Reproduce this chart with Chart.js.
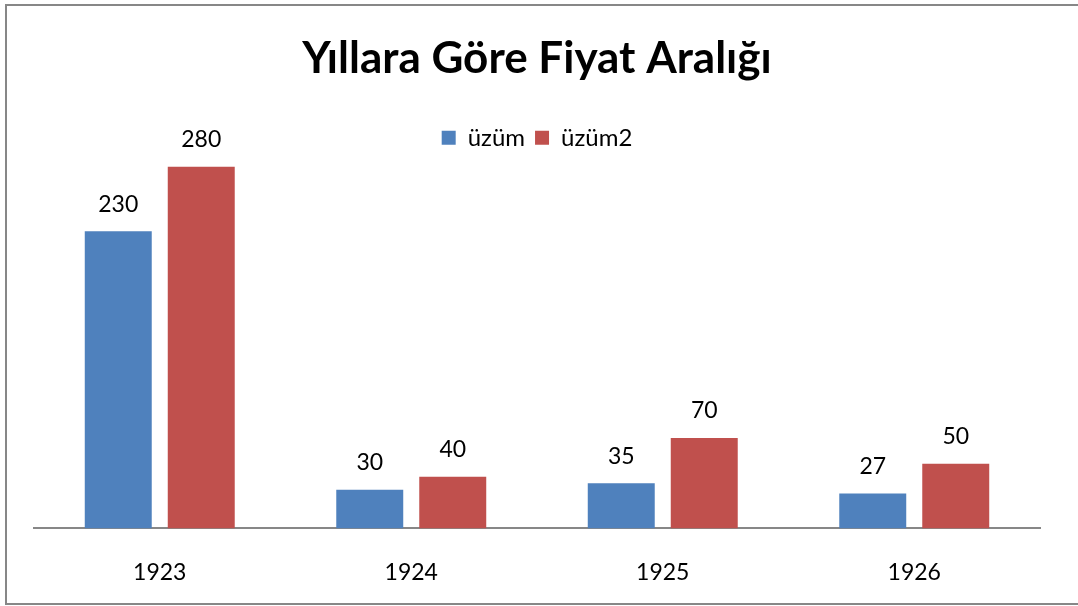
<!DOCTYPE html>
<html>
<head>
<meta charset="utf-8">
<script src="https://cdn.jsdelivr.net/npm/chart.js@4.4.1/dist/chart.umd.min.js"></script>
<style>
  html, body { margin: 0; padding: 0; background: #fff; }
  #wrap { width: 1078px; height: 606px; position: relative; }
</style>
</head>
<body>
<div id="wrap"><canvas id="graphCanvas"></canvas></div>
<script>
const years = ["1923", "1924", "1925", "1926"];
const uzum = [230, 30, 35, 27];
const uzum2 = [280, 40, 70, 50];
const chartTitle = "Yıllara Göre Fiyat Aralığı";

const blue = "#4F81BD";
const red = "#C0504D";
const fontName = "Lato";

// frame like the excel chart border
const framePlugin = {
    id: "frame",
    beforeDraw: (chart) => {
        let c = chart.ctx;
        c.save();
        c.fillStyle = "#fff";
        c.fillRect(0, 0, chart.width, chart.height);
        c.strokeStyle = "#878787";
        c.lineWidth = 2;
        c.strokeRect(6, 5, chart.width + 20, 599);
        c.restore();
    }
};

// value labels above bars
const valueLabels = {
    id: "valueLabels",
    afterDatasetsDraw: (chart) => {
        let c = chart.ctx;
        c.save();
        c.font = `23px ${fontName}`;
        c.fillStyle = "#000";
        c.textAlign = "center";
        c.textBaseline = "middle";
        chart.data.datasets.forEach((ds, i) => {
            let meta = chart.getDatasetMeta(i);
            meta.data.forEach((bar, j) => {
                c.fillText(String(ds.data[j]), bar.x, bar.y - 27);
            });
        });
        c.restore();
    }
};

const ctx = document.getElementById("graphCanvas").getContext("2d");

let chart = new Chart(ctx, {
    type: "bar",
    data: {
        labels: years,
        datasets: [
            { label: "üzüm", data: uzum, backgroundColor: blue, borderWidth: 0 },
            { label: "üzüm2", data: uzum2, backgroundColor: red, borderWidth: 0 },
        ],
    },
    options: {
        responsive: true,
        maintainAspectRatio: false,
        animation: false,
        categoryPercentage: 0.66,
        barPercentage: 0.807,
        layout: {
            padding: { top: 32, left: 34, right: 38, bottom: -10 },
        },
        scales: {
            x: {
                grid: { display: false, drawTicks: false },
                border: { display: true, color: "#878787", width: 2 },
                ticks: {
                    color: "#000",
                    padding: 30,
                    font: { family: fontName, size: 23 },
                },
            },
            y: {
                display: false,
                min: 0,
                max: 285.4,
            },
        },
        plugins: {
            title: {
                display: true,
                text: chartTitle,
                color: "#000",
                font: { family: fontName, size: 44, weight: "bold" },
                padding: { top: 0, bottom: 31 },
            },
            legend: {
                display: true,
                labels: {
                    color: "#000",
                    boxWidth: 14,
                    boxHeight: 14,
                    padding: 10,
                    font: { family: fontName, size: 24 },
                },
            },
            tooltip: { enabled: false },
        },
    },
    plugins: [framePlugin, valueLabels],
});
</script>
</body>
</html>
